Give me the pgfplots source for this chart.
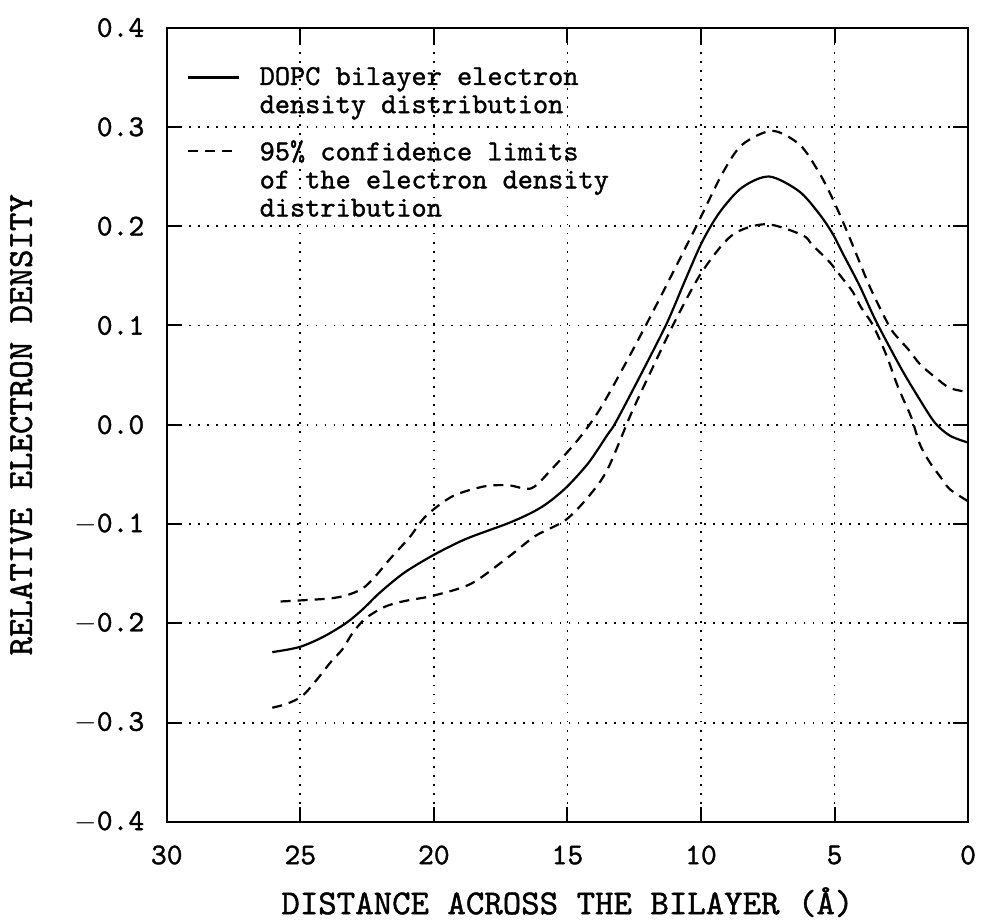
\documentclass[border={5pt 1pt 3pt 9pt}]{standalone}
\usepackage{fontspec}
\newfontfamily\pf{lmmono10-regular.otf}[FakeBold=1.2]
\usepackage{pgfplots}
\pgfplotsset{compat=1.18}
\pgfplotsset{
  legA/.style={legend image code/.code={\draw[##1] (0pt,7pt) -- (25pt,7pt);}},
  legB/.style={legend image code/.code={\draw[##1] (0pt,14.5pt) -- (25pt,14.5pt);}},
}
\begin{document}
\begin{tikzpicture}
\begin{axis}[
  scale only axis,
  width=399pt, height=395.5pt,
  xmin=0, xmax=30, ymin=-0.4, ymax=0.4,
  x dir=reverse,
  xtick={0,5,10,15,20,25,30},
  ytick={-0.4,-0.3,-0.2,-0.1,0,0.1,0.2,0.3,0.4},
  yticklabels={$-$0.4,$-$0.3,$-$0.2,$-$0.1,0.0,0.1,0.2,0.3,0.4},
  /pgf/number format/assume math mode=true,
  tick align=inside, tick pos=both,
  major tick length=7.5pt,
  every tick/.style={black, line width=1pt},
  axis line style={line width=1pt},
  grid=major,
  major grid style={black, line width=0.9pt, dash pattern=on 0.9pt off 3.6pt},
  ticklabel style={font=\pf\fontsize{15}{17}\selectfont, inner sep=0pt},
  xticklabel style={anchor=center, yshift=-16.5pt},
  yticklabel style={anchor=east, xshift=-11pt},
  xlabel={DISTANCE ACROSS THE BILAYER (Å)},
  ylabel={RELATIVE ELECTRON DENSITY},
  label style={font=\pf\fontsize{17.5}{20}\selectfont, inner sep=0pt},
  xlabel style={at={(axis description cs:0.5,-0.1011)}, anchor=center},
  ylabel style={at={(axis description cs:-0.1817,0.5)}, anchor=center},
  legend style={at={(rel axis cs:0.025,0.956)}, anchor=north west, draw=none, fill=none,
    font=\pf\fontsize{14.4}{14}\selectfont, row sep=8pt, column sep=8pt, cells={align=left},
    inner sep=0pt},
  legend cell align=left,
]
\addplot[black, line width=1.1pt, smooth, legA] coordinates {
(26.05,-0.229)(25.05,-0.224)(24.17,-0.214)(23.3,-0.200)(22.67,-0.186)(22.1,-0.171)
(21.54,-0.158)(21.0,-0.147)(20,-0.131)(18.8,-0.115)(17.2,-0.099)(16.3,-0.088)
(15.7,-0.078)(15.0,-0.062)(14.2,-0.038)(13.5,-0.010)(13.2,0.002)(12.3,0.048)
(11.3,0.101)(10.6,0.145)(9.96,0.184)(9.3,0.214)(8.46,0.239)(7.44,0.250)
(6.32,0.235)(5.56,0.212)(5.06,0.192)(4.68,0.172)(4.06,0.140)(3.44,0.104)
(2.49,0.056)(1.8,0.025)(1.24,0.002)(0.68,-0.011)(0,-0.018)
};
\addlegendentry{DOPC bilayer electron\\density distribution}
\addplot[black, line width=1.1pt, dash pattern=on 5pt off 3.5pt, smooth, legB] coordinates {
(25.74,-0.178)(25.05,-0.177)(23.92,-0.175)(23.3,-0.172)(22.67,-0.165)(22.17,-0.152)
(21.67,-0.136)(20.9,-0.113)(20.3,-0.092)(19.3,-0.072)(18.1,-0.062)(17.2,-0.061)
(16.35,-0.064)(15.6,-0.045)(14.6,-0.015)(13.8,0.015)(12.9,0.058)(11.95,0.106)
(11,0.156)(10.1,0.204)(9.2,0.253)(8.46,0.282)(7.33,0.296)(6.3,0.282)(5.6,0.255)
(5.13,0.231)(4.63,0.201)(4.14,0.169)(3.68,0.139)(3.12,0.108)(2.8,0.093)
(2.24,0.076)(1.8,0.061)(1.24,0.048)(0.68,0.037)(0,0.033)
};
\addlegendentry{95\% confidence limits\\of the electron density\\distribution}
\addplot[black, line width=1.1pt, dash pattern=on 5pt off 3.5pt, smooth, forget plot] coordinates {
(26.05,-0.285)(25.5,-0.281)(24.92,-0.273)(24.36,-0.256)(23.86,-0.239)(23.42,-0.226)
(23.05,-0.210)(22.6,-0.196)(22.04,-0.186)(21.6,-0.181)(21.0,-0.177)(20,-0.172)
(18.6,-0.160)(17.2,-0.133)(16.2,-0.112)(15.07,-0.096)(14.2,-0.072)(13.5,-0.045)
(12.6,0.012)(11.8,0.058)(10.94,0.106)(9.96,0.154)(8.83,0.191)(7.56,0.202)
(6.2,0.191)(5.83,0.181)(5.19,0.164)(4.75,0.149)(4.32,0.134)(4.0,0.118)
(3.62,0.103)(3.31,0.086)(3.0,0.066)(2.68,0.042)(2.43,0.026)(2.12,0.007)
(1.8,-0.020)(1.43,-0.038)(1.05,-0.052)(0.68,-0.065)(0,-0.077)
};
\end{axis}
\end{tikzpicture}
\end{document}
